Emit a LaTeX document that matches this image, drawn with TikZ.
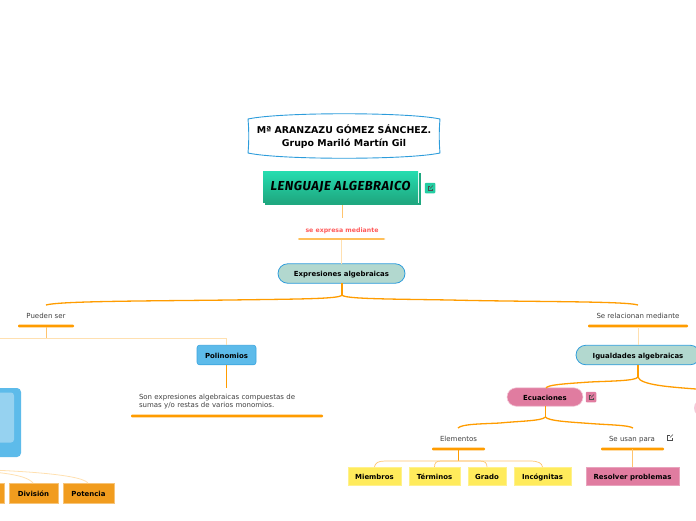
\documentclass[tikz,border=0pt]{standalone}
\usepackage{fontspec}
\setmainfont{DejaVu Sans}
\newfontfamily\handfont[LetterSpace=4]{Fira Sans}
\usetikzlibrary{shapes.misc}
\definecolor{cOr}{HTML}{FF9C00}
\definecolor{cPale}{HTML}{FFE0B0}
\definecolor{cMid}{HTML}{FFC46E}
\definecolor{cBlue}{HTML}{2D9CDB}
\definecolor{cTeal}{HTML}{B2D8CF}
\definecolor{cSky}{HTML}{5DBBEA}
\definecolor{cSkyIn}{HTML}{96D2F0}
\definecolor{cPink}{HTML}{E07CA0}
\definecolor{cYel}{HTML}{FFEB5C}
\definecolor{cAmb}{HTML}{F19C1E}
\definecolor{cGrT}{HTML}{25DDB0}
\definecolor{cGrB}{HTML}{1FA880}
\tikzset{
  every node/.style={inner sep=0pt,outer sep=0pt,font=\fontsize{7}{8.2}\selectfont,text=black!75,text height=6.6pt,text depth=0pt},
  box/.style={minimum width=#1,font=\fontsize{6.95}{8}\selectfont\bfseries,text=black},
  pillteal/.style={box=#1,rounded rectangle,fill=cTeal,draw=cBlue,line width=.8pt,minimum height=19.5pt},
  yelbox/.style={box=#1,fill=cYel,draw=cYel!70!white,line width=.6pt,minimum height=18pt},
  ambbox/.style={box=#1,fill=cAmb,draw=cAmb!60!white,line width=.6pt,minimum height=20pt},
  ul/.style={minimum width=#1,minimum height=2.6pt,fill=cOr,rounded corners=1pt,text height=,text depth=},
  main/.style={line width=1.3pt,draw=cOr},
  soft/.style={line width=1pt,draw=cMid},
  pale/.style={line width=1pt,draw=cPale},
  icon/.style={minimum width=10.5pt,minimum height=10.5pt,rounded corners=1pt,fill=#1,text height=,text depth=},
  glyph/.style={line width=.45pt,draw=#1},
}
\begin{document}
\begin{tikzpicture}[x=1pt,y=-1pt]
\useasboundingbox (0,0) rectangle (696,520);
\clip (0,0) rectangle (696,520);
% title
\node[minimum width=192pt,minimum height=46pt,align=center,text height=,text depth=,font=\fontsize{9.4}{12.5}\selectfont\bfseries,text=black] (title) at (344,136.5) {Mª ARANZAZU GÓMEZ SÁNCHEZ.\\Grupo Mariló Martín Gil};
\draw[cBlue,line width=.9pt] (248,119) .. controls (280,112) and (408,112) .. (440,119)
  .. controls (439,130) and (439,142) .. (440,153)
  .. controls (408,160) and (280,160) .. (248,153)
  .. controls (249,142) and (249,130) .. (248,119) -- cycle;
% main topic
\fill[cGrB] (265,173) rectangle (421,205);
\fill[white] (262,170) rectangle (418.5,202.5);
\node[minimum width=155pt,minimum height=31pt] (lenguaje) at (340.5,186.5) {};
\shade[top color=cGrT,bottom color=cGrB] (263,171) rectangle (418,202);
\node[font=\handfont\fontsize{13}{14}\selectfont\bfseries\itshape,text=black,text height=,text depth=] at (lenguaje) {LENGUAJE ALGEBRAICO};
\node[icon=cGrT!70!cGrB] (ic1) at (430,188) {};
\draw[glyph=black!70] (430,186) -- (428,186) -- (428,190.5) -- (432.5,190.5) -- (432.5,188.5);
\draw[glyph=black!70] (430,188.5) -- (433,185.5);
% se expresa
\node[font=\fontsize{6.2}{8}\selectfont\bfseries,text=red!65!white] (seexp) at (342,229) {se expresa mediante};
\node[ul=87pt,minimum height=1.2pt] (u0) at (341.5,239) {};
\node[pillteal=127pt] (expr) at (341.5,273.5) {Expresiones algebraicas};
\draw[line width=1pt,draw=cMid] (lenguaje.south -| seexp) ++(0,3) -- (342,218);
\draw[line width=1pt,draw=cPale] (u0) -- (expr.north -| u0);
% left
\node (pueden) at (46,315) {Pueden ser};
\node[ul=56pt] (u1) at (46,326) {};
\node (sere) at (638,315) {Se relacionan mediante};
\node[ul=100pt] (u2) at (638,326) {};
\coordinate (hubA) at (342,295);
\draw[main] (expr.south -| hubA) -- (hubA);
\draw[main] (hubA) .. controls (340,299) and (300,299) .. (230,300) .. controls (150,301) and (60,301) .. (46,305);
\draw[main] (hubA) .. controls (344,299) and (390,299) .. (450,300) .. controls (530,302) and (625,301) .. (638,305);
% polinomios
\node[box=59pt,rounded corners=2.5pt,fill=cSky,draw=cBlue!70!cSky,line width=.6pt,minimum height=19.5pt] (poli) at (226.5,355) {Polinomios};
\node[align=left,anchor=north west,text width=170pt,text height=,text depth=,font=\fontsize{7}{8}\selectfont] (sonexp) at (139,394) {Son expresiones algebraicas compuestas de\\sumas y/o restas de varios monomios.};
\node[ul=192pt] (u3) at (227,416) {};
\node[minimum width=120pt,minimum height=69pt,rounded corners=4pt,fill=cSky] (mono) at (-39,422.5) {};
\node[minimum width=104pt,minimum height=50pt,rounded corners=3pt,fill=cSkyIn] (monoin) at (-38,417.5) {};
\draw[soft,draw=cMid] (u1) -- (46,338);
\draw[pale] (46,338) -| (poli.north);
\draw[pale] (46,338) -| (mono.north);
\draw[line width=1.1pt,draw=cOr] (poli.south) -- (226.5,388);
% operation boxes
\node[ambbox=49pt] (mult) at (-20.5,493) {};
\node[ambbox=49pt] (div) at (33.5,493) {División};
\node[ambbox=51pt] (pot) at (88.5,493) {Potencia};
\coordinate (hubB) at (-39,469);
\draw[pale] (mono.south) -- (hubB);
\draw[pale,line width=.8pt] (hubB) .. controls (-10,472) and (25,473) .. (33,483);
\draw[pale,line width=.8pt] (hubB) .. controls (0,470) and (80,473) .. (88,483);
% right
\node[pillteal=124pt] (igual) at (638,355) {Igualdades algebraicas};
\draw[line width=1pt,draw=cPale] (u2) -- (igual.north);
\coordinate (hubC) at (638,377);
\draw[main] (igual.south) -- (hubC);
\node[box=76pt,rounded rectangle,fill=cPink,draw=cPink!40!white,line width=.6pt,minimum height=18.5pt] (ecu) at (545,397) {Ecuaciones};
\node[box=76pt,rounded rectangle,fill=cPink!40!white,minimum height=18.5pt] (otra) at (732,408) {};
\draw[main] (hubC) .. controls (636,381) and (610,381) .. (590,382) .. controls (560,384) and (548,385) .. (546,388);
\draw[main] (hubC) .. controls (640,385) and (670,387) .. (696,389) -- (732,398);
\node[icon=cPink] (ic2) at (591,397) {};
\draw[glyph=black!70] (591,395) -- (589,395) -- (589,399.5) -- (593.5,399.5) -- (593.5,397.5);
\draw[glyph=black!70] (591,397.5) -- (594,394.5);
\coordinate (hubD) at (545.5,417);
\draw[main] (ecu.south -| hubD) -- (hubD);
\node (elem) at (458.5,438) {Elementos};
\node (seusan) at (632,438) {Se usan para};
\node[ul=53pt] (u4) at (458.5,449) {};
\node[ul=63pt] (u5) at (632.5,449) {};
\draw[main] (hubD) .. controls (542,421) and (520,421) .. (500,423) .. controls (480,424) and (462,424) .. (458,428);
\draw[main] (hubD) .. controls (548,421) and (570,422) .. (590,423.5) .. controls (610,425) and (628,425) .. (633,428);
\node[minimum width=8pt,minimum height=8pt,text height=,text depth=] (ic3) at (670,438) {};
\draw[glyph=black!70] (670,435) -- (667,435) -- (667,440.5) -- (672.5,440.5) -- (672.5,438);
\draw[glyph=black!70] (670,437.5) -- (673,434.5);
% leaf boxes
\node[yelbox=53pt] (miem) at (374.5,476) {Miembros};
\node[yelbox=51pt] (term) at (434.5,476) {Términos};
\node[yelbox=38pt] (grado) at (487,476) {Grado};
\node[yelbox=57pt] (inco) at (542.5,476) {Incógnitas};
\node[box=93pt,fill=cPink,draw=cPink!70!white,line width=.6pt,minimum height=18pt] (resol) at (632.5,476) {Resolver problemas};
\coordinate (hubE) at (458.5,461);
\draw[line width=.9pt,draw=cOr] (u4) -- (hubE);
\draw[cMid,line width=.7pt] (hubE) -- (385,461) .. controls (378,461) and (375,463) .. (374.5,467);
\draw[cMid,line width=.7pt] (hubE) -- (441,461) .. controls (436,461) and (434.5,463) .. (434.5,467);
\draw[cMid,line width=.7pt] (hubE) -- (480,461) .. controls (485,461) and (487,463) .. (487,467);
\draw[cMid,line width=.7pt] (hubE) -- (530,461) .. controls (538,461) and (542,463) .. (542.5,467);
\draw[line width=.9pt,draw=cMid] (u5 -| resol) -- (resol.north);
\end{tikzpicture}
\end{document}
